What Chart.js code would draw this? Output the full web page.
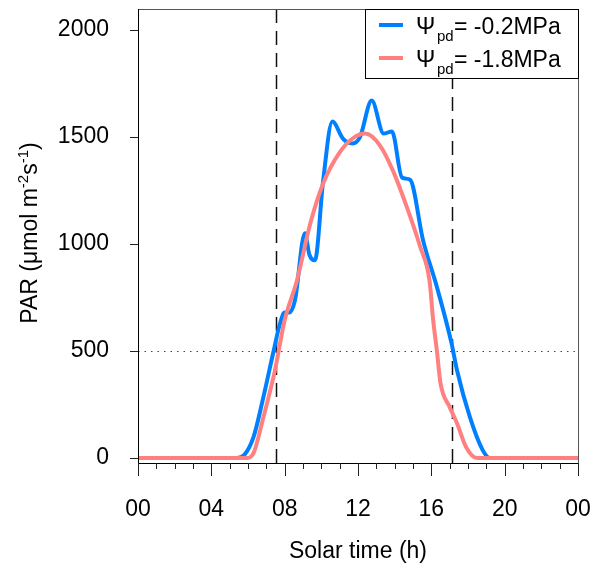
<!DOCTYPE html>
<html lang="en">
<head>
<meta charset="UTF-8">
<title>PAR over the day</title>
<script src="https://cdn.jsdelivr.net/npm/chart.js"></script>
<style>
    body { margin: 0; background: #fff; }
    canvas { display: block; }
</style>
</head>
<body>
<canvas id="parChart" width="600" height="570"></canvas>
<script>
    // solar hour / PAR
    const hoursWet = [0, 5.4, 5.8, 6.3, 6.8, 7.37, 7.75, 8.0, 8.25, 8.56, 9.1, 9.35, 9.65, 10.1, 10.6, 11.2, 11.7, 12.1, 12.75, 13.4, 13.85, 14.4, 14.84, 15.55, 16.3, 17.1, 17.4, 18.1, 18.8, 19.2, 24];
    const parWet   = [0, 0, 15, 98, 270, 490, 630, 680, 680, 737, 1050, 950, 924, 1297, 1572, 1490, 1470, 1498, 1670, 1516, 1526, 1311, 1300, 1017, 800, 537, 410, 192, 37, 0, 0];

    const hoursDry = [0, 5.9, 6.3, 6.8, 7.47, 8.0, 8.67, 9.4, 10.1, 11.0, 11.7, 12.4, 13.2, 13.9, 14.67, 15.4, 15.9, 16.1, 16.3, 16.5, 17.0, 17.4, 17.9, 18.5, 24];
    const parDry   = [0, 0, 23, 177, 410, 644, 830, 1097, 1283, 1428, 1493, 1516, 1460, 1344, 1171, 985, 830, 644, 504, 350, 238, 163, 51, 0, 0];

    const xTicks = [0, 4, 8, 12, 16, 20, 24];
    const xTickLabels = ['00', '04', '08', '12', '16', '20', '00'];
    const yTicks = [0, 500, 1000, 1500, 2000];
    const dayBounds = [7.5, 17.1];
    const threshold = 500;

    const seriesNames = ['-0.2MPa', '-1.8MPa'];
    const seriesColors = ['#0080ff', '#ff8080'];

    const FONT = '"Liberation Sans", Arial, sans-serif';

    function toPoints(xs, ys) {
        return xs.map((x, i) => ({ x: x, y: ys[i] }));
    }

    // keep the plot box where the figure has it, no label overflow padding
    function noPad(s) {
        s.paddingTop = 0;
        s.paddingBottom = 0;
        s.paddingLeft = 0;
        s.paddingRight = 0;
    }

    // draw a string made of pieces with different sizes / offsets, centred on x
    function richText(ctx, parts, x, y) {
        let total = 0;
        parts.forEach(p => {
            ctx.font = p.size + 'px ' + FONT;
            p.w = ctx.measureText(p.t).width;
            total += p.w;
        });
        let cx = x - total / 2;
        ctx.textAlign = 'left';
        ctx.textBaseline = 'alphabetic';
        parts.forEach(p => {
            ctx.font = p.size + 'px ' + FONT;
            ctx.fillText(p.t, cx, y + (p.dy || 0));
            cx += p.w;
        });
    }

    const decorations = {
        id: 'decorations',
        beforeDatasetsDraw(chart) {
            const ctx = chart.ctx;
            const a = chart.chartArea;
            const xs = chart.scales.x, ys = chart.scales.y;
            ctx.save();
            // dashed day limits
            ctx.strokeStyle = '#111';
            ctx.lineWidth = 1.5;
            ctx.setLineDash([14, 8]);
            dayBounds.forEach(h => {
                const px = Math.round(xs.getPixelForValue(h)) + 0.5;
                ctx.beginPath();
                ctx.moveTo(px, a.top);
                ctx.lineTo(px, a.bottom);
                ctx.stroke();
            });
            // dotted threshold
            ctx.strokeStyle = '#444';
            ctx.lineWidth = 1;
            ctx.setLineDash([1.5, 5]);
            const py = Math.round(ys.getPixelForValue(threshold)) + 0.5;
            ctx.beginPath();
            ctx.moveTo(a.left, py);
            ctx.lineTo(a.right, py);
            ctx.stroke();
            ctx.restore();
        },
        afterDraw(chart) {
            const ctx = chart.ctx;
            const a = chart.chartArea;
            const xs = chart.scales.x, ys = chart.scales.y;
            ctx.save();
            ctx.setLineDash([]);

            // frame
            ctx.lineWidth = 1;
            ctx.strokeStyle = '#555';
            ctx.beginPath();
            ctx.moveTo(a.left + 0.5, a.top + 0.5);
            ctx.lineTo(a.right + 0.5, a.top + 0.5);
            ctx.lineTo(a.right + 0.5, a.bottom);
            ctx.stroke();
            ctx.strokeStyle = '#000';
            ctx.beginPath();
            ctx.moveTo(a.left + 0.5, a.top);
            ctx.lineTo(a.left + 0.5, a.bottom + 0.5);
            ctx.lineTo(a.right + 1, a.bottom + 0.5);
            ctx.stroke();

            // x ticks: every hour, longer every 4 h
            ctx.strokeStyle = '#222';
            for (let h = 0; h <= 24; h++) {
                const px = Math.round(xs.getPixelForValue(h)) + 0.5;
                const len = h % 4 === 0 ? 13 : 6;
                ctx.beginPath();
                ctx.moveTo(px, a.bottom);
                ctx.lineTo(px, a.bottom + len);
                ctx.stroke();
            }
            // y ticks
            yTicks.forEach(v => {
                const py = Math.round(ys.getPixelForValue(v)) + 0.5;
                ctx.beginPath();
                ctx.moveTo(a.left - 8, py);
                ctx.lineTo(a.left, py);
                ctx.stroke();
            });

            // axis titles
            ctx.fillStyle = '#000';
            richText(ctx, [{ t: 'Solar time (h)', size: 23 }], (a.left + a.right) / 2, 558);
            ctx.save();
            ctx.translate(37, (a.top + a.bottom) / 2 - 3);
            ctx.rotate(-Math.PI / 2);
            richText(ctx, [
                { t: 'PAR (\u03bcmol m', size: 23 },
                { t: '-2', size: 15, dy: -9 },
                { t: 's', size: 23 },
                { t: '-1', size: 15, dy: -9 },
                { t: ')', size: 23 }
            ], 0, 0);
            ctx.restore();

            // legend
            const lx = 365, ly = 9, lw = a.right - lx, lh = 69;
            ctx.fillStyle = '#fff';
            ctx.fillRect(lx, ly, lw, lh);
            ctx.strokeStyle = '#000';
            ctx.lineWidth = 1;
            ctx.strokeRect(lx + 0.5, ly + 0.5, lw, lh);
            const rows = [34, 67];
            seriesNames.forEach((name, i) => {
                const base = rows[i];
                ctx.strokeStyle = seriesColors[i];
                ctx.lineWidth = 4;
                ctx.beginPath();
                ctx.moveTo(379, base - 9);
                ctx.lineTo(403, base - 9);
                ctx.stroke();
                ctx.fillStyle = '#000';
                ctx.textAlign = 'left';
                ctx.textBaseline = 'alphabetic';
                ctx.font = '23px ' + FONT;
                ctx.fillText('\u03a8', 416, base);
                ctx.font = '15px ' + FONT;
                ctx.fillText('pd', 437, base + 7);
                ctx.font = '23px ' + FONT;
                ctx.fillText('= ' + name, 454, base);
            });
            ctx.restore();
        }
    };

    const ctx = document.getElementById('parChart').getContext('2d');
    const parChart = new Chart(ctx, {
        type: 'line',
        data: {
            datasets: [
                {
                    label: seriesNames[0],
                    data: toPoints(hoursWet, parWet),
                    borderColor: seriesColors[0],
                    borderWidth: 4,
                    cubicInterpolationMode: 'monotone',
                    pointRadius: 0,
                    fill: false,
                    order: 2
                },
                {
                    label: seriesNames[1],
                    data: toPoints(hoursDry, parDry),
                    borderColor: seriesColors[1],
                    borderWidth: 4,
                    cubicInterpolationMode: 'monotone',
                    pointRadius: 0,
                    fill: false,
                    order: 1
                }
            ]
        },
        options: {
            responsive: false,
            animation: false,
            layout: { padding: { left: 0, right: 22, top: 9, bottom: 0 } },
            plugins: {
                legend: { display: false },
                tooltip: { enabled: false }
            },
            scales: {
                x: {
                    type: 'linear',
                    min: 0,
                    max: 24,
                    grid: { display: false },
                    border: { display: false },
                    afterBuildTicks: s => { s.ticks = xTicks.map(v => ({ value: v })); },
                    afterFit: s => { s.height = 107; noPad(s); },
                    ticks: {
                        padding: 25,
                        color: '#000',
                        maxRotation: 0,
                        autoSkip: false,
                        font: { family: FONT, size: 23 },
                        callback: (v, i) => xTickLabels[i]
                    }
                },
                y: {
                    type: 'linear',
                    min: -23,
                    max: 2098,
                    grid: { display: false },
                    border: { display: false },
                    afterBuildTicks: s => { s.ticks = yTicks.map(v => ({ value: v })); },
                    afterFit: s => { s.width = 138; noPad(s); },
                    ticks: {
                        padding: 21,
                        color: '#000',
                        font: { family: FONT, size: 23 },
                        callback: v => String(v)
                    }
                }
            }
        },
        plugins: [decorations]
    });
</script>
</body>
</html>
